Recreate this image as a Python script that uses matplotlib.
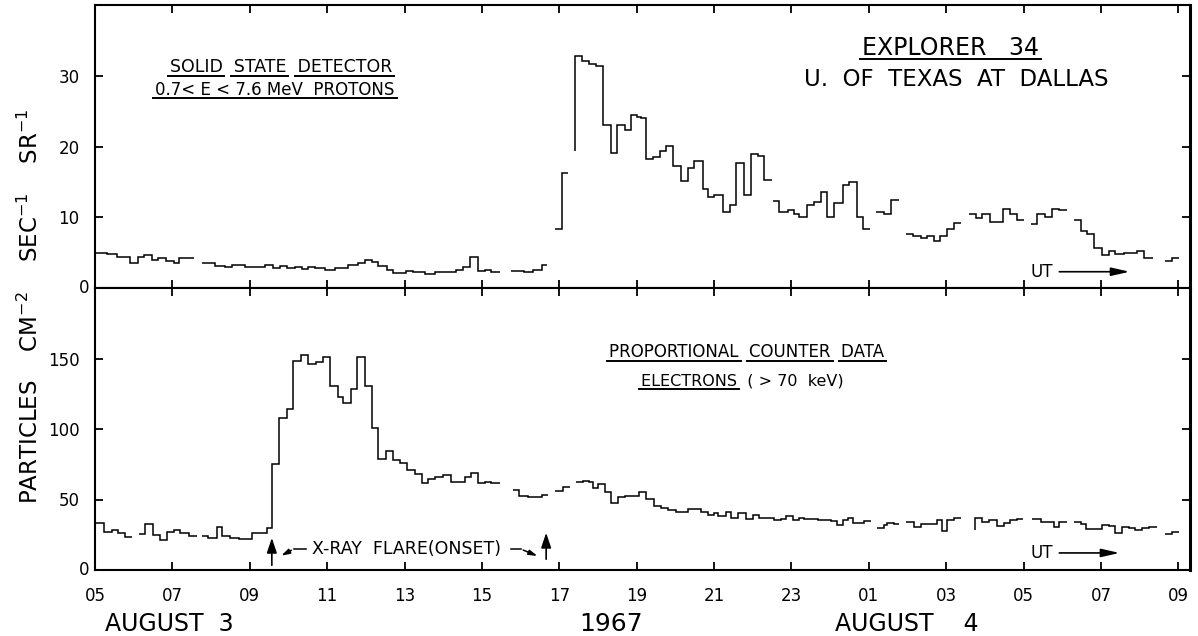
import matplotlib
matplotlib.use("Agg")
import matplotlib.pyplot as plt
from matplotlib.lines import Line2D

# hours since 05 UT, August 3 1967; each segment = bin edges + counts
proton_edges = [
    [0.0, 0.3, 0.57, 0.9, 1.1, 1.26, 1.47, 1.64, 1.83, 2.03, 2.18, 2.57],
    [2.76, 3.10, 3.36, 3.54, 3.88, 4.40, 4.61, 4.78, 4.95, 5.17, 5.34, 5.51, 5.69, 5.94, 6.20, 6.55, 6.80,
     6.98, 7.15, 7.32, 7.54, 7.71, 8.05, 8.22, 8.52, 8.78, 9.13, 9.34, 9.51, 9.69, 9.90, 10.07, 10.24, 10.46],
    [10.76, 11.10, 11.32, 11.54, 11.68],
    [11.88, 12.07, 12.22],
    [12.40, 12.40, 12.58, 12.78, 12.95, 13.13, 13.34, 13.50, 13.69, 13.86, 14.00, 14.12, 14.25, 14.42, 14.59,
     14.76, 14.93, 15.15, 15.32, 15.49, 15.71, 15.84, 16.01, 16.22, 16.40, 16.57, 16.77, 16.95, 17.13, 17.30, 17.49],
    [17.51, 17.69, 17.90, 18.07, 18.20, 18.40, 18.59, 18.76, 18.93, 19.10, 19.32, 19.49, 19.69, 19.86, 20.02],
    [20.18, 20.40, 20.57, 20.77],
    [20.95, 21.13, 21.34, 21.51, 21.69, 21.83, 22.01, 22.20, 22.37],
    [22.59, 22.76, 22.93, 23.12, 23.47, 23.64, 23.84, 24.01],
    [24.20, 24.35, 24.54, 24.74, 24.91, 25.11],
    [25.30, 25.47, 25.64, 25.83, 26.03, 26.20, 26.37, 26.59, 26.93, 27.11, 27.34],
    [27.66, 27.84, 28.01],
]
proton_vals = [
    [4.9, 4.8, 4.4, 3.5, 4.4, 4.6, 4.0, 4.3, 3.8, 3.5, 4.3],
    [3.5, 3.1, 3.0, 3.2, 2.9, 3.2, 2.8, 3.1, 2.8, 3.0, 2.7, 3.0, 2.8, 2.5, 2.8, 3.2, 3.6, 4.0, 3.7, 3.1,
     2.6, 2.1, 2.4, 2.2, 2.0, 2.2, 2.3, 2.5, 3.0, 4.4, 2.4, 2.6, 2.3],
    [2.4, 2.2, 2.5, 3.2],
    [8.4, 16.2],
    [19.4, 32.8, 32.1, 31.7, 31.4, 23.0, 19.1, 23.1, 22.4, 24.5, 24.2, 24.0, 18.2, 18.5, 19.3, 20.1, 17.3,
     15.1, 16.9, 17.9, 14.0, 12.9, 13.1, 10.7, 11.8, 17.7, 13.1, 19.0, 18.7, 15.3],
    [12.3, 10.7, 11.0, 10.5, 10.1, 11.8, 12.2, 13.6, 10.1, 12.0, 14.5, 15.0, 10.0, 8.4],
    [10.8, 10.4, 12.4],
    [7.7, 7.4, 7.1, 7.3, 6.7, 7.3, 8.3, 9.2],
    [10.4, 9.9, 10.4, 9.3, 11.1, 10.5, 9.6],
    [9.0, 10.4, 10.1, 11.1, 11.0],
    [9.6, 8.1, 7.6, 5.7, 4.6, 5.2, 4.8, 5.0, 5.3, 4.3],
    [3.8, 4.3],
]

electron_edges = [
    [0.0, 0.22, 0.44, 0.59, 0.78, 0.95],
    [1.13, 1.30, 1.51, 1.69, 1.86, 2.03, 2.20, 2.42, 2.63],
    [2.76, 2.93, 3.15, 3.29, 3.49, 3.71, 4.05, 4.22, 4.44, 4.58, 4.76, 4.96, 5.13, 5.33, 5.51, 5.70, 5.88,
     6.07, 6.27, 6.42, 6.61, 6.76, 6.98, 7.15, 7.32, 7.53, 7.71, 7.88, 8.07, 8.27, 8.44, 8.61, 8.78, 8.99,
     9.19, 9.37, 9.56, 9.73, 9.90, 10.07, 10.24, 10.46],
    [10.80, 10.97, 11.19, 11.54, 11.71],
    [11.88, 12.09, 12.27],
    [12.44, 12.61, 12.78, 12.87, 13.00, 13.17, 13.33, 13.51, 13.69, 14.07, 14.24, 14.46, 14.63, 14.80, 15.02,
     15.32, 15.66, 15.84, 16.01, 16.09, 16.31, 16.44, 16.61, 16.83, 17.00, 17.17, 17.56, 17.73, 17.86, 18.03,
     18.20, 18.33, 18.68, 19.02, 19.17, 19.32, 19.45, 19.58, 19.75, 19.88, 20.05],
    [20.22, 20.40, 20.48, 20.65, 20.78],
    [20.95, 21.17, 21.34, 21.77, 21.90, 22.03, 22.20, 22.37],
    [22.74, 22.74, 22.93, 23.10, 23.32, 23.49, 23.65, 23.82, 23.99],
    [24.22, 24.44, 24.78, 24.91, 25.13],
    [25.30, 25.47, 25.60, 26.03, 26.20, 26.37, 26.55, 26.72, 26.89, 27.06, 27.23, 27.45],
    [27.66, 27.84, 28.01],
]
electron_vals = [
    [33.1, 26.7, 28.4, 26.0, 23.6],
    [25.3, 32.4, 24.8, 21.3, 26.7, 28.4, 26.2, 24.3],
    [24.3, 22.5, 30.7, 24.1, 22.9, 22.0, 26.5, 26.0, 29.6, 75.0, 107.6, 114.2, 148.2, 152.5, 146.1, 147.3,
     151.3, 130.5, 122.9, 118.7, 128.1, 151.3, 130.5, 100.9, 78.7, 84.4, 78.0, 75.7, 70.9, 67.9, 61.5, 64.3,
     65.7, 67.4, 62.6, 62.6, 65.7, 68.6, 61.9, 62.6, 61.9],
    [56.7, 52.5, 51.6, 53.2],
    [56.0, 58.6],
    [62.2, 63.1, 62.6, 57.9, 61.0, 55.6, 47.3, 52.0, 52.5, 55.1, 50.1, 45.4, 43.7, 42.6, 41.4, 43.0, 41.4,
     39.0, 40.7, 38.3, 41.4, 37.1, 40.7, 36.0, 39.0, 37.1, 35.5, 36.0, 38.3, 35.5, 37.1, 36.0, 35.5, 34.7,
     31.9, 35.5, 37.1, 33.1, 33.5, 34.7],
    [29.6, 31.9, 33.1, 32.4],
    [33.8, 30.7, 32.4, 35.5, 27.9, 35.5, 36.6],
    [28.4, 37.1, 33.8, 35.5, 31.4, 33.1, 35.5, 35.9],
    [35.9, 33.8, 30.3, 33.8],
    [33.8, 32.4, 28.8, 31.9, 31.4, 26.5, 30.7, 29.6, 28.4, 29.6, 30.3],
    [25.3, 26.7],
]

hour_ticks = list(range(0, 29, 2))
hour_labels = ["05", "07", "09", "11", "13", "15", "17", "19", "21", "23", "01", "03", "05", "07", "09"]
proton_yticks = [10, 20, 30]
electron_yticks = [50, 100, 150]

FONT = "DejaVu Sans"
plt.rcParams["font.family"] = FONT

fig = plt.figure(figsize=(11.98, 6.36), dpi=100)
L, R = 95 / 1198, 1190 / 1198
ax1 = fig.add_axes([L, 1 - 288 / 636, R - L, (288 - 5) / 636])
ax2 = fig.add_axes([L, 1 - 570 / 636, R - L, (570 - 288) / 636])

for e, v in zip(proton_edges, proton_vals):
    ax1.stairs(v, e, baseline=None, color="k", lw=1.1)
for e, v in zip(electron_edges, electron_vals):
    ax2.stairs(v, e, baseline=None, color="k", lw=1.1)

for ax, yt, top in [(ax1, proton_yticks, 40), (ax2, electron_yticks, 200)]:
    ax.set_xlim(0.05, 28.3)
    ax.set_ylim(0, top)
    ax.set_xticks(hour_ticks)
    ax.set_yticks(yt)
    ax.set_yticklabels([str(t) for t in yt])
    ax.tick_params(direction="in", length=6, width=1.3, top=True, right=True,
                   labelsize=12, pad=11)
    for s in ax.spines.values():
        s.set_linewidth(1.5)
    ax.spines["right"].set_linewidth(2.2)
    ax.annotate("0", xy=(0, 0), xycoords=ax.get_yaxis_transform(), xytext=(-4, 0),
                textcoords="offset points", ha="right", va="center", fontsize=12)

ax1.set_xticklabels(hour_labels)
ax1.xaxis.get_ticklabels()[0].set_visible(False)
ax1.tick_params(axis="x", pad=9)
ax2.set_xticklabels(hour_labels)
ax2.tick_params(axis="x", pad=12)

# annotations
t1 = ax1.text(4.80, 31.2, "SOLID  STATE  DETECTOR", ha="center", va="center", fontsize=12.5)
t2 = ax1.text(4.65, 28.0, "0.7< E < 7.6 MeV  PROTONS", ha="center", va="center", fontsize=12)
t3 = ax1.text(22.12, 33.9, "EXPLORER   34", ha="center", va="center", fontsize=17)
ax1.text(22.27, 29.4, "U.  OF  TEXAS  AT  DALLAS", ha="center", va="center", fontsize=16.5)
ax1.text(24.18, 2.3, "UT", ha="left", va="center", fontsize=12)
ax1.annotate("", xy=(26.81, 2.3), xytext=(24.85, 2.3),
             arrowprops=dict(arrowstyle="-|>,head_length=1.1,head_width=0.25", color="k", lw=1.2))

t4 = ax2.text(16.84, 154.3, "PROPORTIONAL  COUNTER  DATA", ha="center", va="center", fontsize=12)
t5 = ax2.text(16.72, 133.7, "ELECTRONS  ( > 70  keV)", ha="center", va="center", fontsize=11.5)
ax2.text(8.06, 14.9, "X-RAY  FLARE(ONSET)", ha="center", va="center", fontsize=12.5)
ax2.text(24.18, 12.1, "UT", ha="left", va="center", fontsize=12)
ax2.annotate("", xy=(26.55, 12.1), xytext=(24.85, 12.1),
             arrowprops=dict(arrowstyle="-|>,head_length=1.1,head_width=0.25", color="k", lw=1.2))
for x, y0, y1 in [(4.57, 1.4, 24.8), (11.66, 5.7, 28.4)]:
    ax2.annotate("", xy=(x, y1), xytext=(x, y0),
                 arrowprops=dict(arrowstyle="-|>,head_length=0.9,head_width=0.3", color="k", lw=1.2))
for xs, ys in [([5.45, 5.14, 4.75], [14.9, 14.9, 9.2]), ([10.74, 11.0, 11.5], [14.9, 14.9, 9.2])]:
    ax2.plot(xs[:2], ys[:2], color="k", lw=1.1)
    ax2.annotate("", xy=(xs[2], ys[2]), xytext=(xs[1], ys[1]),
                 arrowprops=dict(arrowstyle="-|>,head_length=0.5,head_width=0.15", color="k", lw=1.1))

fig.text(0.025, 1 - 306 / 636, "PARTICLES    CM$^{-2}$    SEC$^{-1}$    SR$^{-1}$", rotation=90,
         ha="center", va="center", fontsize=16.5)
fig.text(105 / 1198, 1 - 624 / 636, "AUGUST  3", ha="left", va="center", fontsize=17)
fig.text(611 / 1198, 1 - 624 / 636, "1967", ha="center", va="center", fontsize=18)
fig.text(835 / 1198, 1 - 624 / 636, "AUGUST    4", ha="left", va="center", fontsize=17)


def underline(txt, words, gap=3.5, pad=2, lw=1.4):
    fig.canvas.draw()
    r = fig.canvas.get_renderer()
    bb = txt.get_window_extent(r)
    s = txt.get_text()
    prop = txt.get_fontproperties()
    d = r.get_text_width_height_descent("lp", prop, ismath=False)[2]
    y = bb.y0 + d - gap
    inv = fig.transFigure.inverted()
    for w in words:
        i = s.index(w)
        j = i + len(w)
        x1 = bb.x0 + r.get_text_width_height_descent(s[:j], prop, ismath=False)[0]
        x0 = x1 - r.get_text_width_height_descent(w, prop, ismath=False)[0]
        (fx0, fy), (fx1, _) = inv.transform([(x0 - pad, y), (x1 + pad, y)])
        fig.add_artist(Line2D([fx0, fx1], [fy, fy], color="k", lw=lw))


underline(t1, ["SOLID", "STATE", "DETECTOR"])
underline(t2, [t2.get_text()])
underline(t3, [t3.get_text()])
underline(t4, ["PROPORTIONAL", "COUNTER", "DATA"])
underline(t5, ["ELECTRONS"])

fig.savefig("out.png", dpi=100)
